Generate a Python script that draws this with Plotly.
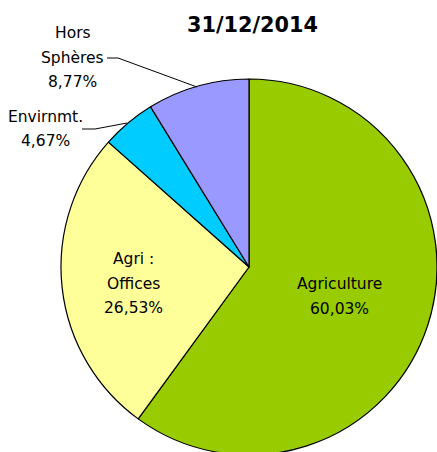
import plotly.graph_objects as go

W, H = 437, 456

title_text = "31/12/2014"
categories = ["Agriculture", "Agri : Offices", "Envirnmt.", "Hors Sphères"]
values = [60.03, 26.53, 4.67, 8.77]
colors = ["#99CC00", "#FFFF99", "#00CCFF", "#9999FF"]

# label lines per slice, with their pixel anchor positions (label placement only)
label_lines = {
    "Agriculture": (["Agriculture", "60,03%"], 339, 284),
    "Agri : Offices": (["Agri :", "Offices", "26,53%"], 133, 259),
    "Envirnmt.": (["Envirnmt.", "4,67%"], 45, 117),
    "Hors Sphères": (["Hors", "Sphères", "8,77%"], 72.5, 33),
}
LINE_GAP = 24.5

def px(x):
    return x / W

def py(y):
    return 1 - y / H

fig = go.Figure(
    go.Pie(
        labels=categories,
        values=values,
        marker=dict(colors=colors, line=dict(color="black", width=1.2)),
        sort=False,
        direction="clockwise",
        rotation=0,
        textinfo="none",
        hoverinfo="label+percent",
        showlegend=False,
        domain=dict(x=[px(61), px(437)], y=[py(455), py(79)]),
    )
)

font = dict(family="DejaVu Sans, Arial, sans-serif", size=15.5, color="black")
annotations = []
for cat in categories:
    lines, x0, y0 = label_lines[cat]
    for i, t in enumerate(lines):
        annotations.append(
            dict(
                x=px(x0), y=py(y0 + i * LINE_GAP), xref="paper", yref="paper",
                text=t, showarrow=False, xanchor="center", yanchor="middle",
                font=font,
            )
        )

annotations.append(
    dict(
        x=px(252.5), y=py(25), xref="paper", yref="paper", text="<b>" + title_text + "</b>",
        showarrow=False, xanchor="center", yanchor="middle",
        font=dict(family="DejaVu Sans, Arial, sans-serif", size=20.8, color="black"),
    )
)

shapes = [
    dict(type="path", xref="paper", yref="paper",
         path=f"M {px(107)} {py(58)} L {px(118)} {py(58)} L {px(197)} {py(87)}",
         line=dict(color="black", width=1)),
    dict(type="path", xref="paper", yref="paper",
         path=f"M {px(82)} {py(129)} L {px(95)} {py(129)} L {px(127)} {py(123)}",
         line=dict(color="black", width=1)),
]

fig.update_layout(
    width=W, height=H,
    margin=dict(l=0, r=0, t=0, b=0),
    paper_bgcolor="white", plot_bgcolor="white",
    annotations=annotations,
    shapes=shapes,
)

fig.write_html(
    "out.html",
    config={"displayModeBar": False},
    post_script=(
        "document.body.style.margin='0';"
        "document.body.style.overflow='hidden';"
        "document.documentElement.style.overflow='hidden';"
    ),
)
